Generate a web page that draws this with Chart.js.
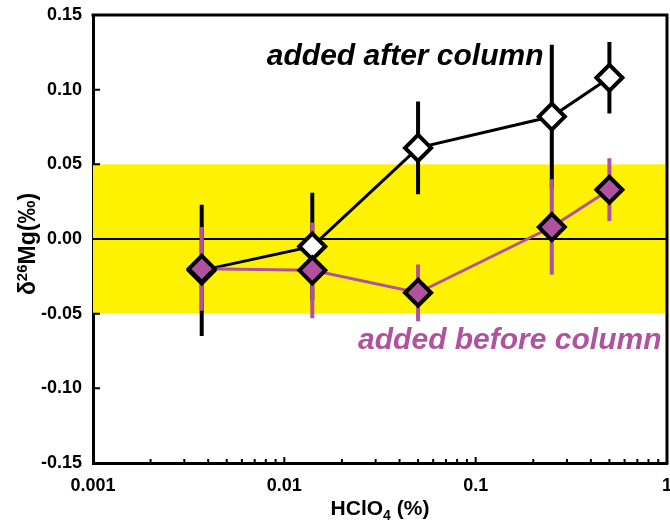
<!DOCTYPE html>
<html>
<head>
<meta charset="utf-8">
<script src="https://cdn.jsdelivr.net/npm/chart.js@4.4.1/dist/chart.umd.min.js"></script>
<style>
  html, body { margin: 0; padding: 0; background: #fff; }
  #wrap { width: 670px; height: 523px; position: relative; }
</style>
</head>
<body>
<div id="wrap"><canvas id="mgChart"></canvas></div>
<script>
// HClO4 concentration (%)
const hclo4 = [0.0037, 0.014, 0.05, 0.25, 0.5];

// acid added after the column
const afterVals = [-0.021, -0.005, 0.061, 0.082, 0.108];
const afterErr = [0.044, 0.036, 0.031, 0.048, 0.024];

// acid added before the column
const beforeVals = [-0.020, -0.021, -0.036, 0.008, 0.033];
const beforeErr = [0.028, 0.032, 0.019, 0.032, 0.021];

const xTicks = [0.001, 0.01, 0.1, 1];
const bandLimits = [-0.05, 0.05];

const PURPLE = '#b152a0';
const YELLOW = '#fff200';
const FONT = "'Liberation Sans', Arial, Helvetica, sans-serif";

Chart.defaults.font.family = FONT;
Chart.defaults.color = '#000';

function toPts(xs, ys) {
  return xs.map((x, i) => ({ x: x, y: ys[i] }));
}

// draws a line of text made of pieces with their own size / offset
function drawRich(ctx, parts, x, y, align) {
  let total = 0;
  parts.forEach(p => {
    ctx.font = 'bold ' + p.size + 'px ' + FONT;
    p.w = ctx.measureText(p.t).width;
    total += p.w;
  });
  let cx = align === 'center' ? x - total / 2 : x;
  parts.forEach(p => {
    ctx.font = 'bold ' + p.size + 'px ' + FONT;
    ctx.fillText(p.t, cx, y + (p.dy || 0));
    cx += p.w;
  });
}

const decorPlugin = {
  id: 'decor',
  beforeDatasetsDraw(chart) {
    const { ctx, chartArea: a, scales: { x, y } } = chart;
    ctx.save();
    // yellow band
    const yTop = y.getPixelForValue(bandLimits[1]);
    const yBot = y.getPixelForValue(bandLimits[0]);
    ctx.fillStyle = YELLOW;
    ctx.fillRect(a.left, yTop, a.right - a.left, yBot - yTop);
    // zero line
    const y0 = y.getPixelForValue(0);
    ctx.strokeStyle = '#000';
    ctx.lineWidth = 2;
    ctx.beginPath();
    ctx.moveTo(a.left, y0);
    ctx.lineTo(a.right, y0);
    ctx.stroke();
    // error bars
    const bars = [[afterVals, afterErr, '#000'], [beforeVals, beforeErr, PURPLE]];
    bars.forEach(([vals, errs, col]) => {
      ctx.strokeStyle = col;
      ctx.lineWidth = 4;
      ctx.beginPath();
      vals.forEach((v, i) => {
        const px = x.getPixelForValue(hclo4[i]);
        ctx.moveTo(px, y.getPixelForValue(v + errs[i]));
        ctx.lineTo(px, y.getPixelForValue(v - errs[i]));
      });
      ctx.stroke();
    });
    ctx.restore();
  },
  afterDraw(chart) {
    const { ctx, chartArea: a, scales: { x, y } } = chart;
    ctx.save();
    ctx.strokeStyle = '#000';
    // top and right frame
    ctx.lineWidth = 3;
    ctx.beginPath();
    ctx.moveTo(a.left - 1.5, a.top);
    ctx.lineTo(a.right, a.top);
    ctx.lineTo(a.right, a.bottom + 1.5);
    ctx.stroke();
    // inner ticks on y
    ctx.lineWidth = 2;
    ctx.beginPath();
    y.ticks.forEach(t => {
      const py = y.getPixelForValue(t.value);
      ctx.moveTo(a.left, py);
      ctx.lineTo(a.left + 7, py);
    });
    // inner ticks on x (log minor + major)
    for (let d = 0.001; d < 1; d *= 10) {
      for (let m = 1; m <= 9; m++) {
        const v = d * m;
        if (v <= 0.001 * 1.0001) continue;
        const px = x.getPixelForValue(v);
        const len = m === 1 ? 6 : 4;
        ctx.moveTo(px, a.bottom);
        ctx.lineTo(px, a.bottom - len);
      }
    }
    ctx.stroke();

    // axis titles
    ctx.fillStyle = '#000';
    ctx.textBaseline = 'alphabetic';
    drawRich(ctx, [
      { t: 'HClO', size: 21 },
      { t: '4', size: 14, dy: 5 },
      { t: ' (%)', size: 21 }
    ], (a.left + a.right) / 2, 515, 'center');

    ctx.save();
    ctx.translate(35, (a.top + a.bottom) / 2 + 5);
    ctx.rotate(-Math.PI / 2);
    drawRich(ctx, [
      { t: '\u03b4', size: 23 },
      { t: '26', size: 15, dy: -8 },
      { t: 'Mg(\u2030)', size: 23 }
    ], 0, 0, 'center');
    ctx.restore();

    // series labels
    ctx.font = 'italic bold 30px ' + FONT;
    ctx.fillStyle = '#000';
    ctx.fillText('added after column', x.getPixelForValue(0.0081), y.getPixelForValue(0.1168));
    ctx.fillStyle = PURPLE;
    ctx.fillText('added before column', x.getPixelForValue(0.0243), y.getPixelForValue(-0.0738));
    ctx.restore();
  }
};

const ctx = document.getElementById('mgChart').getContext('2d');
ctx.canvas.width = 670;
ctx.canvas.height = 523;

const mgChart = new Chart(ctx, {
  type: 'line',
  data: {
    datasets: [{
      label: 'added before column',
      data: toPts(hclo4, beforeVals),
      borderColor: PURPLE,
      borderWidth: 3,
      pointStyle: 'rectRot',
      pointRadius: 13,
      pointBackgroundColor: PURPLE,
      pointBorderColor: '#000',
      pointBorderWidth: 4,
      order: 0
    }, {
      label: 'added after column',
      data: toPts(hclo4, afterVals),
      borderColor: '#000',
      borderWidth: 3,
      pointStyle: 'rectRot',
      pointRadius: 13,
      pointBackgroundColor: '#fff',
      pointBorderColor: '#000',
      pointBorderWidth: 4,
      order: 1
    }]
  },
  options: {
    responsive: false,
    animation: false,
    layout: { autoPadding: false, padding: { top: 15, right: 3, left: 0, bottom: 0 } },
    plugins: {
      legend: { display: false },
      tooltip: { enabled: false }
    },
    scales: {
      x: {
        type: 'logarithmic',
        min: 0.001,
        max: 1,
        grid: { display: false, drawTicks: false },
        border: { display: true, color: '#000', width: 3 },
        afterBuildTicks: scale => { scale.ticks = xTicks.map(v => ({ value: v })); },
        afterFit: scale => { scale.height = 60; scale.paddingLeft = 0; scale.paddingRight = 0; },
        ticks: {
          autoSkip: false,
          maxRotation: 0,
          padding: 12,
          font: { size: 18, weight: 'bold' },
          callback: v => String(v)
        }
      },
      y: {
        min: -0.15,
        max: 0.15,
        grid: { display: false, drawTicks: false },
        border: { display: true, color: '#000', width: 3 },
        afterFit: scale => { scale.width = 93; scale.paddingTop = 0; scale.paddingBottom = 0; },
        ticks: {
          stepSize: 0.05,
          padding: 11,
          font: { size: 18, weight: 'bold' },
          callback: v => (Math.abs(v) < 1e-9 ? '0.00' : v.toFixed(2))
        }
      }
    }
  },
  plugins: [decorPlugin]
});
</script>
</body>
</html>
